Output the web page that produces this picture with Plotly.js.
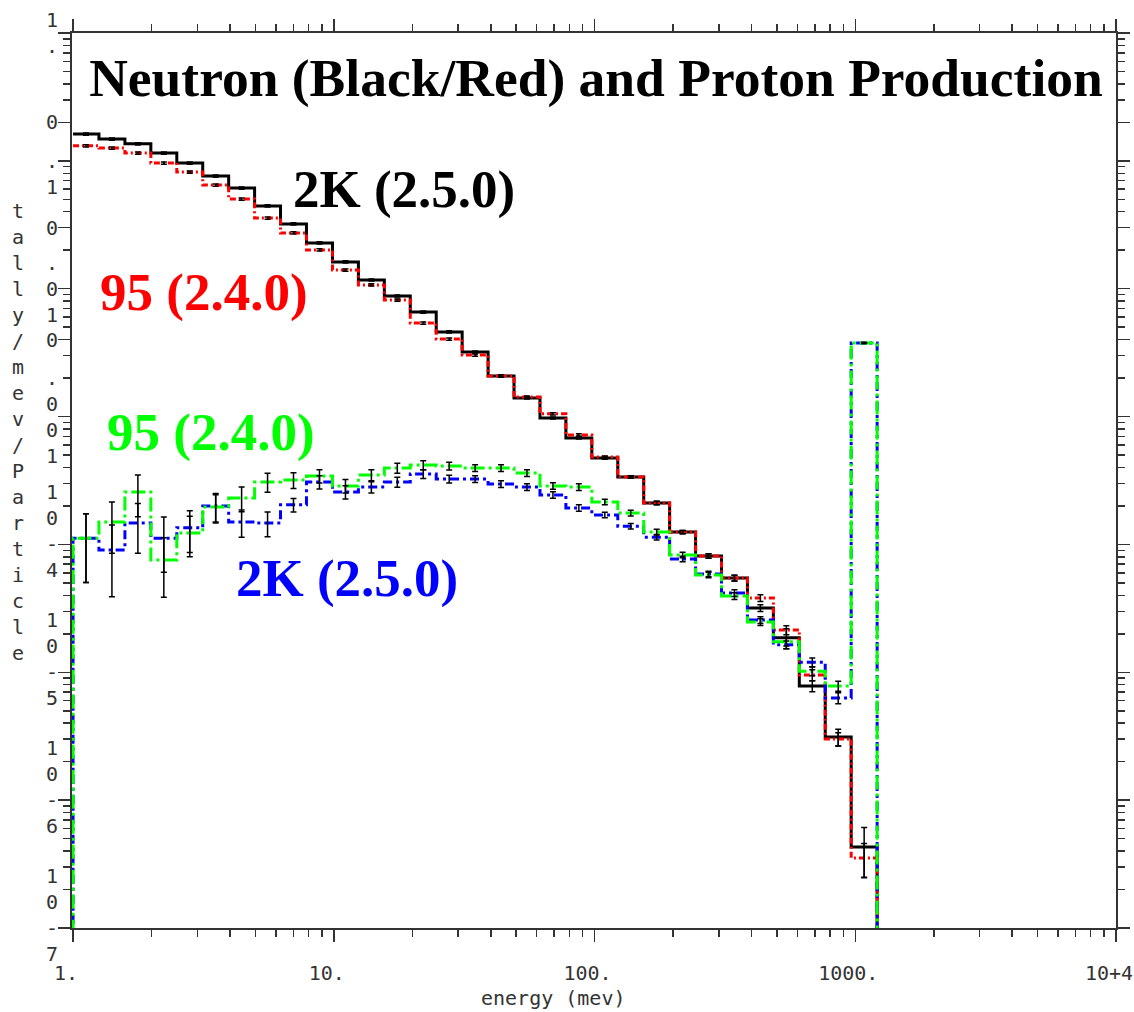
<!DOCTYPE html>
<html>
<head>
<meta charset="utf-8">
<script src="https://cdn.plot.ly/plotly-3.0.1.min.js"></script>
<style>
html,body{margin:0;padding:0;background:#fff;}
#chart{width:1134px;height:1012px;}
</style>
</head>
<body>
<div id="chart"></div>
<script>
// ---------- data ----------
const binEdges = [1, 1.257, 1.581, 1.988, 2.500, 3.143, 3.952, 4.969, 6.248, 7.856,
  9.886, 12.43, 15.63, 19.65, 24.71, 31.07, 39.07, 49.12, 61.77, 77.66,
  97.64, 122.8, 154.4, 194.1, 244.1, 306.9, 385.9, 485.2, 610.1, 767.1, 964.6, 1213];

// neutrons, 2K (2.5.0) - black
const neutron2K = [0.162, 0.148, 0.136, 0.115, 0.0962, 0.0761, 0.0613, 0.0444, 0.0321, 0.0228,
  0.0162, 0.0117, 0.00877, 0.00657, 0.00459, 0.00320, 0.00208, 0.00140, 0.000975, 0.000680,
  0.000474, 0.000337, 0.000211, 0.000125, 8.12e-5, 5.46e-5, 3.18e-5, 1.86e-5, 7.81e-6, 3.12e-6, 4.30e-7];
// neutrons, 95 (2.4.0) - red
const neutron95 = [0.131, 0.126, 0.115, 0.0962, 0.0818, 0.0647, 0.0503, 0.0357, 0.0273, 0.0201,
  0.0140, 0.0107, 0.00816, 0.00539, 0.00404, 0.00303, 0.00208, 0.00142, 0.00105, 0.000718,
  0.000483, 0.000337, 0.000211, 0.000125, 8.12e-5, 5.46e-5, 3.81e-5, 2.14e-5, 9.53e-6, 3.01e-6, 3.53e-7];
// protons, 95 (2.4.0) - green
const proton95 = [1.12e-4, 1.50e-4, 2.57e-4, 7.56e-5, 1.23e-4, 1.96e-4, 2.31e-4, 3.08e-4, 3.19e-4, 3.43e-4,
  2.87e-4, 3.49e-4, 3.96e-4, 4.18e-4, 4.11e-4, 3.96e-4, 3.96e-4, 3.62e-4, 2.87e-4, 2.81e-4,
  2.15e-4, 1.76e-4, 1.25e-4, 8.27e-5, 5.77e-5, 3.95e-5, 2.47e-5, 1.73e-5, 1.02e-5, 7.81e-6, 3.76e-3];
// protons, 2K (2.5.0) - blue
const proton2K = [1.12e-4, 9.05e-5, 1.47e-4, 1.12e-4, 1.35e-4, 2.00e-4, 1.50e-4, 1.47e-4, 2.04e-4, 3.08e-4,
  2.57e-4, 2.81e-4, 3.08e-4, 3.56e-4, 3.25e-4, 3.25e-4, 2.97e-4, 2.81e-4, 2.44e-4, 1.93e-4,
  1.70e-4, 1.39e-4, 1.14e-4, 7.69e-5, 5.87e-5, 4.17e-5, 2.56e-5, 1.64e-5, 1.20e-5, 6.30e-6, 3.76e-3];

// relative errors (error bars)
const relErrNeutron2K = [0.02,0.02,0.02,0.02,0.02,0.02,0.02,0.02,0.02,0.02,0.02,0.02,0.02,0.02,0.02,0.02,
  0.02,0.02,0.02,0.02,0.02,0.02,0.03,0.03,0.04,0.05,0.06,0.18,0.10,0.15,0.42];
const relErrNeutron95 = [0.02,0.02,0.02,0.02,0.02,0.02,0.02,0.02,0.02,0.02,0.02,0.02,0.02,0.02,0.02,0.02,
  0.02,0.02,0.02,0.02,0.02,0.02,0.03,0.03,0.04,0.05,0.06,0.08,0.10,0.12,0.30];
const relErrProton95 = [0.55,0.43,0.36,0.49,0.35,0.25,0.22,0.17,0.14,0.12,0.12,0.10,0.09,0.08,0.07,0.06,
  0.06,0.06,0.06,0.06,0.05,0.05,0.05,0.05,0.05,0.06,0.06,0.07,0.08,0.09,0.01];
const relErrProton2K = [0.55,0.57,0.42,0.46,0.36,0.25,0.24,0.22,0.12,0.12,0.12,0.10,0.09,0.08,0.07,0.06,
  0.06,0.06,0.06,0.06,0.05,0.05,0.05,0.05,0.05,0.06,0.06,0.07,0.08,0.10,0.01];

// axis ticks / labels
const NB = '\u00a0';
const xTickVals = [1, 10, 100, 1000, 10000];
const xTickText = ['1.', '10.', '100.', '1000.', '10+4'];
const yTickVals = [1, 0.2, 0.1, 0.03, 0.01, 0.004, 0.001, 1e-4, 1e-5, 1e-6, 1e-7];
const yTickText = ['1<br>.', '0', NB + '<br>.<br>1', '0', '.<br>0<br>1', '0', '.<br>0<br>0<br>1',
  '1<br>0<br>-<br>4<br>' + NB, '1<br>0<br>-<br>5<br>' + NB, '1<br>0<br>-<br>6<br>' + NB, '1<br>0<br>-<br>7<br>' + NB];
const xMinorDecades = [1, 10, 100, 1000];
const yMinorDecades = [1e-7, 1e-6, 1e-5, 1e-4, 1e-3, 1e-2, 1e-1];
const minorDigits = [2, 3, 4, 5, 6, 7, 8, 9];

const titleText = 'Neutron (Black/Red) and Proton Production';
const xTitle = 'energy (mev)';
const yTitle = 'tally/mev/Particle';
const seriesLabels = [
  {text: '2K (2.5.0)', color: '#000000', px: 404, py: 190},
  {text: '95 (2.4.0)', color: '#ff0000', px: 204, py: 292},
  {text: '95 (2.4.0)', color: '#00ff00', px: 211, py: 432},
  {text: '2K (2.5.0)', color: '#0000ff', px: 347, py: 578}
];

// ---------- build ----------
const W = 1134, H = 1012, ML = 72, MR = 18, MT = 33, MB = 84;
const PW = W - ML - MR, PH = H - MT - MB;
const FLOOR = 1e-9;

function stepTrace(vals, fromFloor, color, dash, name) {
  const x = [], y = [];
  if (fromFloor) { x.push(binEdges[0]); y.push(FLOOR); }
  for (let i = 0; i < vals.length; i++) { x.push(binEdges[i]); y.push(vals[i]); }
  x.push(binEdges[vals.length]); y.push(FLOOR);
  return {x, y, type: 'scatter', mode: 'lines', name,
    line: {shape: 'hv', color, width: 3, dash},
    hoverinfo: 'skip', showlegend: false};
}
const centers = binEdges.slice(0, -1).map((e, i) => Math.sqrt(e * binEdges[i + 1]));
function errTrace(vals, rel) {
  return {x: centers, y: vals, type: 'scatter', mode: 'markers',
    marker: {size: 1, color: 'rgba(0,0,0,0)'},
    error_y: {type: 'data', array: vals.map((v, i) => v * rel[i]), visible: true,
      color: '#000', thickness: 1.5, width: 3},
    hoverinfo: 'skip', showlegend: false};
}

const traces = [
  stepTrace(neutron2K, false, '#000000', 'solid', 'neutron 2K'),
  stepTrace(neutron95, false, '#ff0000', '6px,3px,2px,3px', 'neutron 95'),
  stepTrace(proton2K, true, '#0000ff', '9px,4px,3px,4px', 'proton 2K'),
  stepTrace(proton95, true, '#00ff00', '14px,4px,3px,4px', 'proton 95'),
  errTrace(neutron2K, relErrNeutron2K),
  errTrace(neutron95, relErrNeutron95),
  errTrace(proton2K, relErrProton2K),
  errTrace(proton95, relErrProton95)
];

const minorX = [];
xMinorDecades.forEach(d => minorDigits.forEach(m => minorX.push(m * d)));
const minorY = [];
yMinorDecades.forEach(d => minorDigits.forEach(m => minorY.push(m * d)));

const tickFont = {family: 'DejaVu Sans Mono', size: 20, color: '#333'};
const axisCommon = {
  type: 'log', ticks: 'outside', ticklen: 12, tickwidth: 1.5, tickcolor: '#333',
  showline: true, linecolor: '#333', linewidth: 2, mirror: 'allticks',
  showgrid: false, zeroline: false, tickfont: tickFont, layer: 'below traces',
  tickmode: 'array', ticklabeloverflow: 'allow'
};

const px2x = px => (px - ML) / PW;
const py2y = py => (H - MB - py) / PH;

const annotations = seriesLabels.map(s => ({
  text: s.text, xref: 'paper', yref: 'paper', x: px2x(s.px), y: py2y(s.py),
  xanchor: 'center', yanchor: 'middle', showarrow: false,
  font: {family: 'Liberation Serif', size: 53, color: s.color, weight: 'bold'}
}));
annotations.push({
  text: yTitle.split('').join('<br>'), xref: 'paper', yref: 'paper',
  x: px2x(18), y: py2y(432), xanchor: 'center', yanchor: 'middle', showarrow: false,
  font: {family: 'DejaVu Sans Mono', size: 20, color: '#333'}
});
annotations.push({
  text: xTitle, xref: 'paper', yref: 'paper',
  x: px2x(553), y: py2y(998), xanchor: 'center', yanchor: 'middle', showarrow: false,
  font: {family: 'DejaVu Sans Mono', size: 20, color: '#333'}
});

const layout = {
  width: W, height: H,
  margin: {l: ML, r: MR, t: MT, b: MB, pad: 0},
  paper_bgcolor: '#fff', plot_bgcolor: '#fff',
  showlegend: false,
  title: {text: titleText, xref: 'container', yref: 'container',
    x: 596 / W, y: 1 - 77 / H, xanchor: 'center', yanchor: 'middle',
    font: {family: 'Liberation Serif', size: 53.5, color: '#000', weight: 'bold'}},
  xaxis: Object.assign({}, axisCommon, {
    range: [-0.004, 4], tickvals: xTickVals, ticktext: xTickText,
    ticklabelstandoff: 14, ticklabelshift: -7,
    minor: {tickmode: 'array', tickvals: minorX, ticks: 'outside', ticklen: 7, tickwidth: 1.5, tickcolor: '#333', showgrid: false}
  }),
  yaxis: Object.assign({}, axisCommon, {
    range: [-7, 0], tickvals: yTickVals, ticktext: yTickText, ticklabelstandoff: -4,
    minor: {tickmode: 'array', tickvals: minorY, ticks: 'outside', ticklen: 7, tickwidth: 1.5, tickcolor: '#333', showgrid: false}
  }),
  annotations
};

Plotly.newPlot('chart', traces, layout, {displayModeBar: false, staticPlot: true});
</script>
</body>
</html>
